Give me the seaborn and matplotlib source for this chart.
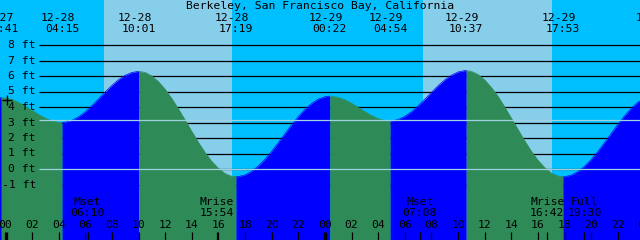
import numpy as np
import pandas as pd
import seaborn as sns
import matplotlib.pyplot as plt

title = "Berkeley, San Francisco Bay, California"

# tide extremes (date, time, height in ft)
tide_dates = ["12-27", "12-28", "12-28", "12-28", "12-29", "12-29", "12-29", "12-29", "12-30"]
tide_times = ["23:41", "04:15", "10:01", "17:19", "00:22", "04:54", "10:37", "17:53", "00:55"]
tide_heights = [4.6, 3.0, 6.3, -0.5, 4.7, 3.1, 6.35, -0.5, 4.8]

# half-hourly water level, hours from 12-28 00:00
hours = [h / 2 for h in range(-2, 97)]
levels = [4.55, 4.59, 4.58, 4.48, 4.29, 4.05, 3.78, 3.51, 3.28, 3.10,
          3.01, 3.02, 3.14, 3.37, 3.69, 4.09, 4.53, 4.98, 5.40, 5.77,
          6.05, 6.23, 6.30, 6.23, 6.00, 5.63, 5.14, 4.54, 3.87, 3.15,
          2.42, 1.71, 1.06, 0.49, 0.04, -0.29, -0.47, -0.49, -0.38, -0.15,
          0.20, 0.63, 1.14, 1.70, 2.28, 2.85, 3.38, 3.85, 4.23, 4.51,
          4.66, 4.70, 4.62, 4.47, 4.24, 3.98, 3.70, 3.45, 3.25, 3.13,
          3.10, 3.19, 3.39, 3.69, 4.07, 4.49, 4.94, 5.37, 5.75, 6.05,
          6.26, 6.35, 6.30, 6.10, 5.75, 5.27, 4.69, 4.01, 3.29, 2.56,
          1.83, 1.16, 0.57, 0.10, -0.25, -0.45, -0.50, -0.40, -0.17, 0.17,
          0.61, 1.12, 1.69, 2.28, 2.87, 3.41, 3.90, 4.30, 4.59]

sun_dates = ["12-28", "12-29"]
sunrise = ["07:24", "07:23"]
sunset = ["17:00", "17:02"]

moon_names = ["Mset", "Mrise", "Mset", "Mrise", "Full"]
moon_dates = ["12-28", "12-28", "12-29", "12-29", "12-29"]
moon_times = ["06:10", "15:54", "07:08", "16:42", "19:30"]

now_time = "00:05"
now_level = 4.45

mean_level = 3.16
depth_lines = list(range(-1, 9))

day_sky = "#87CEEB"
night_sky = "#00BFFF"
rise_col = "#0000FF"
fall_col = "#2E8B57"
light_line = "#9fd1e3"

# pixel geometry of the 640x240 picture
PX_H = 13.31     # px per hour
X0 = 5.5         # px of 12-28 00:00
PX_FT = 15.5     # px per foot
Y0 = 169.0       # px of 0 ft


def hx(px):
    return (px - X0) / PX_H


def fy(py):
    return (Y0 - py) / PX_FT


day_off = {"12-27": -24, "12-28": 0, "12-29": 24, "12-30": 48}


def to_h(d, s):
    hh, mm = s.split(":")
    return day_off[d] + int(hh) + int(mm) / 60


ev_t = [to_h(d, s) for d, s in zip(tide_dates, tide_times)]

pts = pd.DataFrame({"t": hours + ev_t, "h": levels + tide_heights}).sort_values("t")

segs = []
bounds = [-np.inf] + ev_t + [np.inf]
for i in range(len(bounds) - 1):
    sub = pts[(pts.t >= bounds[i]) & (pts.t <= bounds[i + 1])].copy()
    if len(sub) < 2:
        continue
    sub["seg"] = i
    sub["dir"] = "rise" if sub.h.iloc[-1] > sub.h.iloc[0] else "fall"
    segs.append(sub)
water = pd.concat(segs, ignore_index=True)

plt.rcParams["font.family"] = ["DejaVu Sans Mono"]
plt.rcParams["font.size"] = 8.2

fig = plt.figure(figsize=(6.4, 2.4), dpi=100)
ax = fig.add_axes([0, 0, 1, 1])
xmin, xmax = hx(0), hx(640)
ybot, ytop = fy(240), fy(0)

# sky
ax.axvspan(xmin, xmax, color=night_sky, lw=0, zorder=0)
for d, r, s in zip(sun_dates, sunrise, sunset):
    ax.axvspan(to_h(d, r), to_h(d, s), color=day_sky, lw=0, zorder=0.5)

# depth lines (hidden by water)
ax.hlines(depth_lines, hx(39.3), xmax, colors="black", lw=0.9, zorder=2)

# water
cols = {"rise": rise_col, "fall": fall_col}
for _, sub in water.groupby("seg"):
    ax.fill_between(sub.t, sub.h, ybot, color=cols[sub["dir"].iloc[0]], lw=0, zorder=3)
sns.lineplot(data=water, x="t", y="h", hue="dir", units="seg", estimator=None,
             palette=cols, legend=False, lw=0.5, ax=ax, zorder=3)
ax.set_xlim(xmin, xmax)
ax.set_ylim(ybot, ytop)
ax.axis("off")

# datum and mean lines
ax.hlines([0, mean_level], hx(39.3), xmax, colors=light_line, lw=0.9, zorder=4)

ax.plot(to_h("12-28", now_time), now_level, marker="+", ms=7, mew=1,
        color="black", zorder=5)

# labels
ax.text((xmin + xmax) / 2, fy(6), title, ha="center", va="center", zorder=6)
for ft in depth_lines:
    ax.text(hx(36), ft, f"{ft} ft", ha="right", va="center", zorder=6)

for d, s, t in zip(tide_dates, tide_times, ev_t):
    ax.text(t - 4 / PX_H, fy(17.5), d, ha="center", va="center", zorder=6)
    ax.text(t, fy(28.8), s, ha="center", va="center", zorder=6)

moon_t = [to_h(d, s) for d, s in zip(moon_dates, moon_times)]
for n, s, t in zip(moon_names, moon_times, moon_t):
    ax.text(t, fy(201.7), n, ha="center", va="center", zorder=6)
    ax.text(t, fy(213.3), s, ha="center", va="center", zorder=6)

tick_h = list(range(0, 50, 2))
for h in tick_h:
    ax.text(h, fy(225), f"{h % 24:02d}", ha="center", va="center", zorder=6)
    ax.vlines(h, ybot, fy(231.7), colors="black",
              lw=2.4 if h % 24 == 0 else 0.9, zorder=6)
ax.vlines(moon_t, ybot, fy(231.7), colors="black", lw=0.9, zorder=6)

fig.savefig("out.png", dpi=100)
